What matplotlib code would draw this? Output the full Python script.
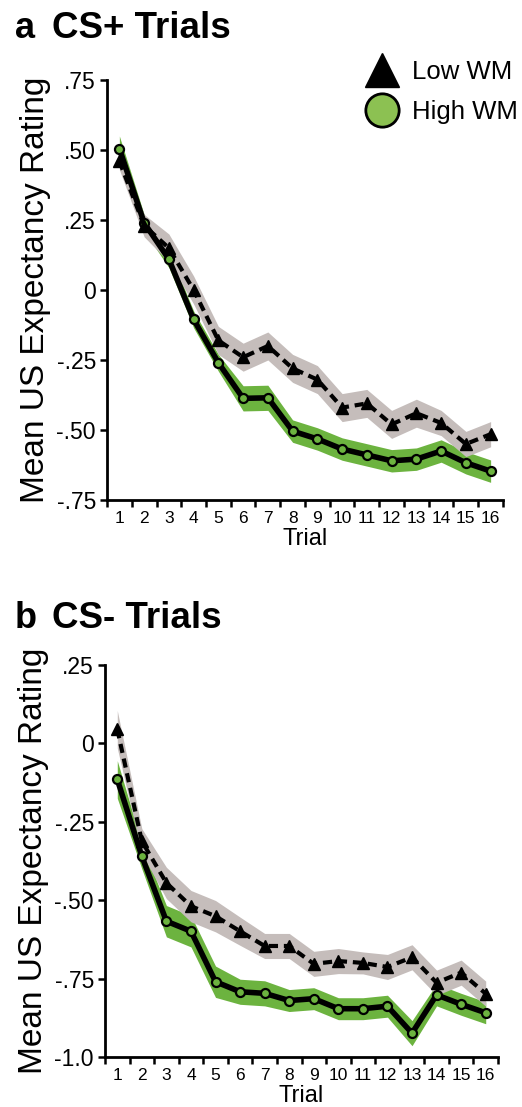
import matplotlib
matplotlib.use("Agg")
import matplotlib.pyplot as plt
from matplotlib.lines import Line2D
import numpy as np

plt.rcParams['font.family'] = ['Liberation Sans', 'DejaVu Sans']

trials = np.arange(1, 17)

# CS+ trials
csp_low = [0.46, 0.23, 0.15, 0.00, -0.18, -0.24, -0.20, -0.28, -0.32, -0.42,
           -0.405, -0.48, -0.44, -0.475, -0.55, -0.515]
csp_low_se = [0.03, 0.04, 0.05, 0.05, 0.05, 0.05, 0.05, 0.05, 0.05, 0.05,
              0.05, 0.05, 0.05, 0.045, 0.045, 0.045]
csp_high = [0.505, 0.24, 0.11, -0.105, -0.26, -0.387, -0.385, -0.504, -0.532, -0.568,
            -0.589, -0.61, -0.604, -0.575, -0.617, -0.647]
csp_high_se = [0.045, 0.03, 0.03, 0.03, 0.03, 0.045, 0.045, 0.04, 0.04, 0.04,
               0.04, 0.04, 0.04, 0.04, 0.04, 0.04]

# CS- trials
csm_low = [0.045, -0.312, -0.445, -0.519, -0.551, -0.599, -0.646, -0.646, -0.703, -0.694,
           -0.70, -0.713, -0.682, -0.763, -0.731, -0.798]
csm_low_se = [0.06, 0.04, 0.05, 0.05, 0.05, 0.045, 0.04, 0.04, 0.04, 0.04,
              0.035, 0.04, 0.04, 0.04, 0.04, 0.04]
csm_high = [-0.115, -0.36, -0.567, -0.599, -0.76, -0.792, -0.797, -0.82, -0.814, -0.846,
            -0.846, -0.838, -0.924, -0.802, -0.832, -0.859]
csm_high_se = [0.06, 0.04, 0.05, 0.05, 0.05, 0.04, 0.04, 0.035, 0.035, 0.035,
               0.035, 0.035, 0.04, 0.035, 0.035, 0.035]

csp_yticks = [0.75, 0.5, 0.25, 0, -0.25, -0.5, -0.75]
csp_ylabels = ['.75', '.50', '.25', '0', '-.25', '-.50', '-.75']
csm_yticks = [0.25, 0, -0.25, -0.5, -0.75, -1.0]
csm_ylabels = ['.25', '0', '-.25', '-.50', '-.75', '-1.0']

GREEN = '#6cb33f'
GRAY = '#c5bdbb'
W, H = 522, 1107


def draw_panel(ax, low, low_se, high, high_se, yticks, ylabels):
    low, low_se = np.array(low), np.array(low_se)
    high, high_se = np.array(high), np.array(high_se)
    ax.fill_between(trials, high - high_se, high + high_se, color=GREEN, lw=0, zorder=1)
    ax.fill_between(trials, low - low_se, low + low_se, color=GRAY, lw=0, zorder=2)
    ax.plot(trials, high, '-o', color='black', lw=4, ms=6.5, mfc=GREEN, mec='black',
            mew=1.6, zorder=3)
    ax.plot(trials, low, '--^', color='black', lw=3, ms=8, dashes=(2.2, 1.4), zorder=4)

    ax.set_xlim(0.5, 16.5)
    ax.set_ylim(yticks[-1], yticks[0])
    ax.set_yticks(yticks)
    ax.set_yticklabels(ylabels, fontsize=16.5)
    ax.set_xticks(trials)
    ax.set_xticklabels([str(t) for t in trials], fontsize=12.5)
    ax.set_xticks(np.arange(0.5, 17, 1), minor=True)
    ax.tick_params(axis='x', which='major', length=0, pad=8)
    ax.tick_params(axis='x', which='minor', length=5, width=1.8, direction='out')
    ax.tick_params(axis='y', length=5, width=1.8, direction='out', pad=3)
    for s in ('top', 'right'):
        ax.spines[s].set_visible(False)
    for s in ('left', 'bottom'):
        ax.spines[s].set_linewidth(2)
    ax.set_xlabel('Trial', fontsize=17, labelpad=1.5)
    ax.set_ylabel('Mean US Expectancy Rating', fontsize=24, labelpad=4)


fig = plt.figure(figsize=(W / 100, H / 100), dpi=100)
ax1 = fig.add_axes([107 / W, 1 - 500 / H, 396 / W, 420 / H])
ax2 = fig.add_axes([105 / W, 1 - 1057 / H, 393 / W, 392 / H])

draw_panel(ax1, csp_low, csp_low_se, csp_high, csp_high_se, csp_yticks, csp_ylabels)
draw_panel(ax2, csm_low, csm_low_se, csm_high, csm_high_se, csm_yticks, csm_ylabels)

fig.text(15 / W, 1 - 38 / H, 'a', fontsize=26, fontweight='bold', va='baseline')
fig.text(52 / W, 1 - 38 / H, 'CS+ Trials', fontsize=26.5, fontweight='bold', va='baseline')
fig.text(15 / W, 1 - 628 / H, 'b', fontsize=26, fontweight='bold', va='baseline')
fig.text(52 / W, 1 - 628 / H, 'CS- Trials', fontsize=26.5, fontweight='bold', va='baseline')

handles = [
    Line2D([], [], ls='none', marker='^', ms=25, color='black'),
    Line2D([], [], ls='none', marker='o', ms=24, mfc='#8cc152', mec='black', mew=2),
]
fig.legend(handles, ['Low WM', 'High WM'], loc='upper left', frameon=False,
           bbox_to_anchor=(364 / W, 1 - 60 / H), bbox_transform=fig.transFigure,
           fontsize=18.5, handlelength=1.4, handletextpad=0.45, labelspacing=0.62,
           borderpad=0, borderaxespad=0, numpoints=1)

fig.savefig('out.png', dpi=100)
